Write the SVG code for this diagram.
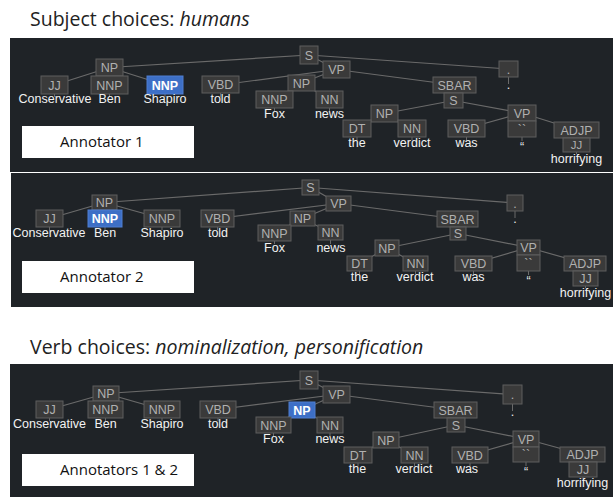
<svg xmlns="http://www.w3.org/2000/svg" width="613" height="497" viewBox="0 0 613 497">
<style>
.panel{fill:#1f2327}
.hdr{font-family:"Open Sans","Noto Sans",sans-serif;font-size:19.5px;fill:#222}
.hdr .it{font-style:italic}
.lbl{fill:#ffffff}
.lbltx{font-family:"Open Sans","Noto Sans",sans-serif;font-size:15px;fill:#111}
.b{fill:#3a3a3a;stroke:#5e5e5e;stroke-width:1}
.hl{fill:#3d6fc6;stroke:#4f7fd2;stroke-width:1}
.t{font-family:"Liberation Sans",Arial,sans-serif;font-size:12.5px;fill:#b0b0b0;text-anchor:middle}
.ts{font-family:"Liberation Sans",Arial,sans-serif;font-size:11.5px;fill:#b0b0b0;text-anchor:middle}
.th{font-family:"Liberation Sans",Arial,sans-serif;font-size:12.5px;fill:#ffffff;font-weight:bold;text-anchor:middle}
.w{font-family:"Liberation Sans",Arial,sans-serif;font-size:12.5px;fill:#f2f2f2;text-anchor:middle}
.q{font-family:"Liberation Sans",Arial,sans-serif;font-size:12.5px;fill:#e8e8e8;text-anchor:middle}
.e line{stroke:#6a6a6a;stroke-width:1.2}
.k line{stroke:#6a6a6a;stroke-width:1}
</style>
<rect width="613" height="497" fill="#ffffff"/>
<text class="hdr" x="30" y="26">Subject choices: <tspan class="it">humans</tspan></text>
<text class="hdr" x="30" y="354">Verb choices: <tspan class="it">nominalization, personification</tspan></text>

<!-- ================= PANEL 1 ================= -->
<g id="panel1">
<rect class="panel" x="10" y="38" width="603" height="134"/>
<g id="p1-connectors">
<g class="e">
<line x1="309" y1="55" x2="109.5" y2="67.5"/>
<line x1="309" y1="55" x2="336.5" y2="69.5"/>
<line x1="309" y1="55" x2="508.5" y2="69"/>
<line x1="109.5" y1="67.5" x2="54.5" y2="85"/>
<line x1="109.5" y1="67.5" x2="109.5" y2="85"/>
<line x1="109.5" y1="67.5" x2="165" y2="85"/>
<line x1="336.5" y1="69.5" x2="220.5" y2="85"/>
<line x1="336.5" y1="69.5" x2="301.5" y2="83"/>
<line x1="336.5" y1="69.5" x2="454.5" y2="85"/>
<line x1="301.5" y1="83" x2="274.5" y2="99.5"/>
<line x1="301.5" y1="83" x2="329.5" y2="99.5"/>
<line x1="454.5" y1="85" x2="453.5" y2="100.5"/>
<line x1="453.5" y1="100.5" x2="384.5" y2="113.5"/>
<line x1="453.5" y1="100.5" x2="522" y2="113"/>
<line x1="384.5" y1="113.5" x2="357" y2="128.5"/>
<line x1="384.5" y1="113.5" x2="412" y2="128.5"/>
<line x1="522" y1="113" x2="466.5" y2="128.5"/>
<line x1="522" y1="113" x2="522" y2="129"/>
<line x1="522" y1="113" x2="576.5" y2="130"/>
<line x1="576.5" y1="130" x2="576.5" y2="145"/>
</g>
<g class="k">
<line x1="54.5" y1="94" x2="54.5" y2="97"/>
<line x1="109.5" y1="94" x2="109.5" y2="97"/>
<line x1="165" y1="94" x2="165" y2="97"/>
<line x1="220.5" y1="93" x2="220.5" y2="97"/>
<line x1="274.5" y1="108" x2="274.5" y2="111"/>
<line x1="329.5" y1="108" x2="329.5" y2="111"/>
<line x1="508.5" y1="77" x2="508.5" y2="84"/>
<line x1="357" y1="137" x2="357" y2="140"/>
<line x1="412" y1="137" x2="412" y2="140"/>
<line x1="466.5" y1="137" x2="466.5" y2="140"/>
<line x1="522" y1="137" x2="522" y2="141"/>
<line x1="576.5" y1="152" x2="576.5" y2="154"/>
</g>
</g>
<g id="p1-S"><rect class="b" x="300" y="46" width="18" height="18"/><text class="t" x="309" y="59.5">S</text></g>
<g id="p1-NP"><rect class="b" x="96" y="59" width="27" height="17"/><text class="t" x="109.5" y="72">NP</text></g>
<g id="p1-JJ"><rect class="b" x="41" y="76" width="27" height="18"/><text class="t" x="54.5" y="89.5">JJ</text><text class="w" x="55" y="103">Conservative</text></g>
<g id="p1-NNP-Ben"><rect class="b" x="91" y="76" width="37" height="18"/><text class="t" x="109.5" y="89.5">NNP</text><text class="w" x="109.5" y="103">Ben</text></g>
<g id="p1-NNP-Shapiro"><rect class="hl" x="147" y="76" width="36" height="18"/><text class="th" x="165" y="89.5">NNP</text><text class="w" x="165" y="103">Shapiro</text></g>
<g id="p1-VBD-told"><rect class="b" x="202" y="76" width="37" height="17"/><text class="t" x="220.5" y="89">VBD</text><text class="w" x="220.5" y="103">told</text></g>
<g id="p1-VP"><rect class="b" x="323" y="61" width="27" height="17"/><text class="t" x="336.5" y="74">VP</text></g>
<g id="p1-NP-fox"><rect class="b" x="288" y="75" width="27" height="16"/><text class="t" x="301.5" y="87.5">NP</text></g>
<g id="p1-NNP-Fox"><rect class="b" x="256" y="91" width="37" height="17"/><text class="t" x="274.5" y="104">NNP</text><text class="w" x="274.5" y="118">Fox</text></g>
<g id="p1-NN-news"><rect class="b" x="316" y="91" width="27" height="17"/><text class="t" x="329.5" y="104">NN</text><text class="w" x="329.5" y="118">news</text></g>
<g id="p1-dot"><rect class="b" x="499" y="61" width="19" height="16"/><text class="t" x="508.5" y="73.5">.</text><text class="w" x="508.5" y="89">.</text></g>
<g id="p1-SBAR"><rect class="b" x="433" y="77" width="43" height="16"/><text class="t" x="454.5" y="89.5">SBAR</text></g>
<g id="p1-S2"><rect class="b" x="444" y="93" width="19" height="15"/><text class="t" x="453.5" y="105">S</text></g>
<g id="p1-NP-verdict"><rect class="b" x="371" y="105" width="27" height="17"/><text class="t" x="384.5" y="118">NP</text></g>
<g id="p1-DT"><rect class="b" x="343" y="120" width="28" height="17"/><text class="t" x="357" y="133">DT</text><text class="w" x="357" y="147">the</text></g>
<g id="p1-NN-verdict"><rect class="b" x="398" y="120" width="28" height="17"/><text class="t" x="412" y="133">NN</text><text class="w" x="412" y="147">verdict</text></g>
<g id="p1-VBD-was"><rect class="b" x="448" y="120" width="37" height="17"/><text class="t" x="466.5" y="133">VBD</text><text class="w" x="466.5" y="147">was</text></g>
<g id="p1-VP2"><rect class="b" x="508" y="105" width="28" height="16"/><text class="t" x="522" y="117.5">VP</text></g>
<g id="p1-quote"><rect class="b" x="508" y="121" width="28" height="16"/><text class="t" x="522" y="133.5">``</text><text class="q" x="522" y="151">“</text></g>
<g id="p1-ADJP"><rect class="b" x="554" y="122" width="45" height="16"/><text class="t" x="576.5" y="134.5">ADJP</text></g>
<g id="p1-JJ2"><rect class="b" x="563" y="138" width="27" height="14"/><text class="ts" x="576.5" y="148.5">JJ</text><text class="w" x="576.5" y="162.5">horrifying</text></g>
<g id="p1-label"><rect class="lbl" x="22" y="126" width="172" height="32"/><text class="lbltx" x="60" y="147">Annotator 1</text></g>
</g>

<!-- ================= PANEL 2 ================= -->
<g id="panel2">
<rect class="panel" x="11" y="173" width="602" height="134"/>
<g id="p2-connectors">
<g class="e">
<line x1="310.5" y1="187.5" x2="104.5" y2="202.5"/>
<line x1="310.5" y1="187.5" x2="338.5" y2="203.5"/>
<line x1="310.5" y1="187.5" x2="515" y2="203"/>
<line x1="104.5" y1="202.5" x2="49.5" y2="218.5"/>
<line x1="104.5" y1="202.5" x2="105" y2="218.5"/>
<line x1="104.5" y1="202.5" x2="162" y2="218.5"/>
<line x1="338.5" y1="203.5" x2="217.5" y2="218.5"/>
<line x1="338.5" y1="203.5" x2="302.5" y2="218.5"/>
<line x1="338.5" y1="203.5" x2="457.5" y2="219"/>
<line x1="302.5" y1="218.5" x2="274.5" y2="233"/>
<line x1="302.5" y1="218.5" x2="330.5" y2="232.5"/>
<line x1="457.5" y1="219" x2="458" y2="233.5"/>
<line x1="458" y1="233.5" x2="387" y2="248"/>
<line x1="458" y1="233.5" x2="528.5" y2="247.5"/>
<line x1="387" y1="248" x2="359.5" y2="263.5"/>
<line x1="387" y1="248" x2="415.5" y2="263.5"/>
<line x1="528.5" y1="247.5" x2="473.5" y2="263.5"/>
<line x1="528.5" y1="247.5" x2="528.5" y2="263"/>
<line x1="528.5" y1="247.5" x2="585" y2="263.5"/>
<line x1="585" y1="263.5" x2="585.5" y2="278.5"/>
</g>
<g class="k">
<line x1="49.5" y1="227" x2="49.5" y2="230"/>
<line x1="105" y1="227" x2="105" y2="230"/>
<line x1="162" y1="227" x2="162" y2="230"/>
<line x1="217.5" y1="227" x2="217.5" y2="230"/>
<line x1="274.5" y1="241" x2="274.5" y2="244"/>
<line x1="330.5" y1="240" x2="330.5" y2="244"/>
<line x1="515" y1="211" x2="515" y2="218"/>
<line x1="359.5" y1="271" x2="359.5" y2="274"/>
<line x1="415.5" y1="271" x2="415.5" y2="274"/>
<line x1="473.5" y1="271" x2="473.5" y2="274"/>
<line x1="528.5" y1="271" x2="528.5" y2="275"/>
<line x1="585.5" y1="286" x2="585.5" y2="288"/>
</g>
</g>
<g id="p2-S"><rect class="b" x="302" y="180" width="17" height="15"/><text class="t" x="310.5" y="192">S</text></g>
<g id="p2-NP"><rect class="b" x="92" y="195" width="25" height="15"/><text class="t" x="104.5" y="207">NP</text></g>
<g id="p2-JJ"><rect class="b" x="36" y="210" width="27" height="17"/><text class="t" x="49.5" y="223">JJ</text><text class="w" x="49" y="236.5">Conservative</text></g>
<g id="p2-NNP-Ben"><rect class="hl" x="88" y="210" width="34" height="17"/><text class="th" x="105" y="223">NNP</text><text class="w" x="105" y="236.5">Ben</text></g>
<g id="p2-NNP-Shapiro"><rect class="b" x="144" y="210" width="36" height="17"/><text class="t" x="162" y="223">NNP</text><text class="w" x="162" y="236.5">Shapiro</text></g>
<g id="p2-VBD-told"><rect class="b" x="201" y="210" width="33" height="17"/><text class="t" x="217.5" y="223">VBD</text><text class="w" x="218" y="236.5">told</text></g>
<g id="p2-VP"><rect class="b" x="326" y="196" width="25" height="15"/><text class="t" x="338.5" y="208">VP</text></g>
<g id="p2-NP-fox"><rect class="b" x="290" y="211" width="25" height="15"/><text class="t" x="302.5" y="223">NP</text></g>
<g id="p2-NNP-Fox"><rect class="b" x="258" y="225" width="33" height="16"/><text class="t" x="274.5" y="237.5">NNP</text><text class="w" x="274.5" y="251.5">Fox</text></g>
<g id="p2-NN-news"><rect class="b" x="318" y="225" width="25" height="15"/><text class="t" x="330.5" y="237">NN</text><text class="w" x="331" y="251.5">news</text></g>
<g id="p2-dot"><rect class="b" x="507" y="195" width="16" height="16"/><text class="t" x="515" y="207.5">.</text><text class="w" x="515" y="223">.</text></g>
<g id="p2-SBAR"><rect class="b" x="437" y="211" width="41" height="16"/><text class="t" x="457.5" y="223.5">SBAR</text></g>
<g id="p2-S2"><rect class="b" x="450" y="227" width="16" height="13"/><text class="t" x="458" y="238">S</text></g>
<g id="p2-NP-verdict"><rect class="b" x="375" y="240" width="24" height="16"/><text class="t" x="387" y="252.5">NP</text></g>
<g id="p2-DT"><rect class="b" x="347" y="256" width="25" height="15"/><text class="t" x="359.5" y="268">DT</text><text class="w" x="359.5" y="281">the</text></g>
<g id="p2-NN-verdict"><rect class="b" x="403" y="256" width="25" height="15"/><text class="t" x="415.5" y="268">NN</text><text class="w" x="415" y="281">verdict</text></g>
<g id="p2-VBD-was"><rect class="b" x="455" y="256" width="37" height="15"/><text class="t" x="473.5" y="268">VBD</text><text class="w" x="473.5" y="281">was</text></g>
<g id="p2-VP2"><rect class="b" x="517" y="240" width="23" height="15"/><text class="t" x="528.5" y="252">VP</text></g>
<g id="p2-quote"><rect class="b" x="517" y="255" width="23" height="16"/><text class="t" x="528.5" y="267.5">``</text><text class="q" x="528.5" y="285">“</text></g>
<g id="p2-ADJP"><rect class="b" x="564" y="256" width="42" height="15"/><text class="t" x="585" y="268">ADJP</text></g>
<g id="p2-JJ2"><rect class="b" x="573" y="271" width="25" height="15"/><text class="t" x="585.5" y="283">JJ</text><text class="w" x="585.5" y="297">horrifying</text></g>
<g id="p2-label"><rect class="lbl" x="22" y="261" width="172" height="32"/><text class="lbltx" x="60" y="282">Annotator 2</text></g>
</g>

<!-- ================= PANEL 3 ================= -->
<g id="panel3">
<rect class="panel" x="10" y="364" width="603" height="133"/>
<g id="p3-connectors">
<g class="e">
<line x1="309" y1="380" x2="106" y2="393.5"/>
<line x1="309" y1="380" x2="336.5" y2="394.5"/>
<line x1="309" y1="380" x2="512.5" y2="394.5"/>
<line x1="106" y1="393.5" x2="49.5" y2="409.5"/>
<line x1="106" y1="393.5" x2="105.5" y2="409.5"/>
<line x1="106" y1="393.5" x2="162" y2="409.5"/>
<line x1="336.5" y1="394.5" x2="218" y2="409.5"/>
<line x1="336.5" y1="394.5" x2="302" y2="410"/>
<line x1="336.5" y1="394.5" x2="455.5" y2="410"/>
<line x1="302" y1="410" x2="273.5" y2="425"/>
<line x1="302" y1="410" x2="330" y2="425"/>
<line x1="455.5" y1="410" x2="456" y2="425"/>
<line x1="456" y1="425" x2="386" y2="440"/>
<line x1="456" y1="425" x2="526" y2="439"/>
<line x1="386" y1="440" x2="358" y2="455"/>
<line x1="386" y1="440" x2="414.5" y2="455"/>
<line x1="526" y1="439" x2="470" y2="455"/>
<line x1="526" y1="439" x2="526" y2="454.5"/>
<line x1="526" y1="439" x2="582.5" y2="454.5"/>
<line x1="582.5" y1="454.5" x2="583" y2="469.5"/>
</g>
<g class="k">
<line x1="49.5" y1="418" x2="49.5" y2="421"/>
<line x1="105.5" y1="418" x2="105.5" y2="421"/>
<line x1="162" y1="418" x2="162" y2="421"/>
<line x1="218" y1="418" x2="218" y2="421"/>
<line x1="273.5" y1="433" x2="273.5" y2="436"/>
<line x1="330" y1="433" x2="330" y2="436"/>
<line x1="512.5" y1="404" x2="512.5" y2="411"/>
<line x1="358" y1="463" x2="358" y2="466"/>
<line x1="414.5" y1="463" x2="414.5" y2="466"/>
<line x1="470" y1="463" x2="470" y2="466"/>
<line x1="526" y1="462" x2="526" y2="466"/>
<line x1="583" y1="477" x2="583" y2="479"/>
</g>
</g>
<g id="p3-S"><rect class="b" x="300" y="371" width="18" height="18"/><text class="t" x="309" y="384.5">S</text></g>
<g id="p3-NP"><rect class="b" x="93" y="386" width="26" height="15"/><text class="t" x="106" y="398">NP</text></g>
<g id="p3-JJ"><rect class="b" x="36" y="401" width="27" height="17"/><text class="t" x="49.5" y="414">JJ</text><text class="w" x="49.5" y="428">Conservative</text></g>
<g id="p3-NNP-Ben"><rect class="b" x="88" y="401" width="35" height="17"/><text class="t" x="105.5" y="414">NNP</text><text class="w" x="105.5" y="428">Ben</text></g>
<g id="p3-NNP-Shapiro"><rect class="b" x="144" y="401" width="36" height="17"/><text class="t" x="162" y="414">NNP</text><text class="w" x="162" y="428">Shapiro</text></g>
<g id="p3-VBD-told"><rect class="b" x="200" y="401" width="36" height="17"/><text class="t" x="218" y="414">VBD</text><text class="w" x="218" y="428">told</text></g>
<g id="p3-VP"><rect class="b" x="323" y="386" width="27" height="17"/><text class="t" x="336.5" y="399">VP</text></g>
<g id="p3-NP-fox"><rect class="hl" x="289" y="402" width="26" height="16"/><text class="th" x="302" y="414.5">NP</text></g>
<g id="p3-NNP-Fox"><rect class="b" x="256" y="417" width="35" height="16"/><text class="t" x="273.5" y="429.5">NNP</text><text class="w" x="273.5" y="443">Fox</text></g>
<g id="p3-NN-news"><rect class="b" x="317" y="417" width="26" height="16"/><text class="t" x="330" y="429.5">NN</text><text class="w" x="330" y="443">news</text></g>
<g id="p3-dot"><rect class="b" x="503" y="385" width="19" height="19"/><text class="t" x="512.5" y="399">.</text><text class="w" x="512.5" y="416">.</text></g>
<g id="p3-SBAR"><rect class="b" x="434" y="402" width="43" height="16"/><text class="t" x="455.5" y="414.5">SBAR</text></g>
<g id="p3-S2"><rect class="b" x="447" y="418" width="18" height="14"/><text class="t" x="456" y="429.5">S</text></g>
<g id="p3-NP-verdict"><rect class="b" x="373" y="432" width="26" height="16"/><text class="t" x="386" y="444.5">NP</text></g>
<g id="p3-DT"><rect class="b" x="344" y="447" width="28" height="16"/><text class="t" x="358" y="459.5">DT</text><text class="w" x="357.5" y="473">the</text></g>
<g id="p3-NN-verdict"><rect class="b" x="401" y="447" width="27" height="16"/><text class="t" x="414.5" y="459.5">NN</text><text class="w" x="414" y="473">verdict</text></g>
<g id="p3-VBD-was"><rect class="b" x="452" y="447" width="36" height="16"/><text class="t" x="470" y="459.5">VBD</text><text class="w" x="467" y="473">was</text></g>
<g id="p3-VP2"><rect class="b" x="513" y="431" width="26" height="16"/><text class="t" x="526" y="443.5">VP</text></g>
<g id="p3-quote"><rect class="b" x="513" y="447" width="26" height="15"/><text class="t" x="526" y="459">``</text><text class="q" x="526" y="476">“</text></g>
<g id="p3-ADJP"><rect class="b" x="560" y="447" width="45" height="15"/><text class="t" x="582.5" y="459">ADJP</text></g>
<g id="p3-JJ2"><rect class="b" x="569" y="462" width="28" height="15"/><text class="t" x="583" y="474">JJ</text><text class="w" x="582.5" y="487">horrifying</text></g>
<g id="p3-label"><rect class="lbl" x="22" y="454" width="172" height="32"/><text class="lbltx" x="60" y="475">Annotators 1 &amp; 2</text></g>
</g>
</svg>
